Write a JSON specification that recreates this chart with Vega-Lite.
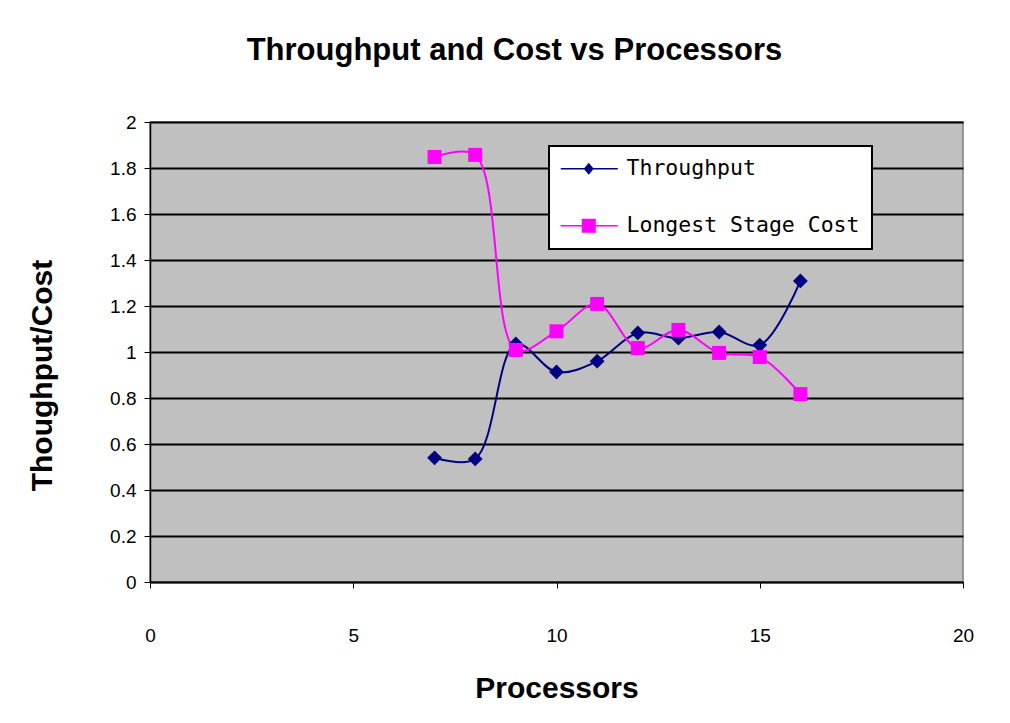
{
  "$schema": "https://vega.github.io/schema/vega-lite/v6.json",
  "autosize": {"type": "none"},
  "width": 813,
  "height": 460,
  "padding": {"left": 150, "top": 122, "right": 47, "bottom": 141},
  "background": "white",
  "config": {
    "view": {"fill": "#C0C0C0", "stroke": "#808080", "strokeWidth": 1.5},
    "font": "Liberation Sans"
  },
  "title": {
    "text": "Throughput and Cost vs Processors",
    "font": "Liberation Sans",
    "fontSize": 31,
    "fontWeight": "bold",
    "anchor": "middle",
    "dx": -42,
    "offset": 46,
    "color": "black"
  },
  "data": {
    "values": [
      {"processors": 7, "series": "Throughput", "value": 0.54},
      {"processors": 8, "series": "Throughput", "value": 0.535},
      {"processors": 9, "series": "Throughput", "value": 1.035},
      {"processors": 10, "series": "Throughput", "value": 0.913},
      {"processors": 11, "series": "Throughput", "value": 0.96},
      {"processors": 12, "series": "Throughput", "value": 1.083},
      {"processors": 13, "series": "Throughput", "value": 1.06},
      {"processors": 14, "series": "Throughput", "value": 1.087},
      {"processors": 15, "series": "Throughput", "value": 1.03},
      {"processors": 16, "series": "Throughput", "value": 1.309},
      {"processors": 7, "series": "Longest Stage Cost", "value": 1.848},
      {"processors": 8, "series": "Longest Stage Cost", "value": 1.857},
      {"processors": 9, "series": "Longest Stage Cost", "value": 1.009},
      {"processors": 10, "series": "Longest Stage Cost", "value": 1.09},
      {"processors": 11, "series": "Longest Stage Cost", "value": 1.209},
      {"processors": 12, "series": "Longest Stage Cost", "value": 1.017},
      {"processors": 13, "series": "Longest Stage Cost", "value": 1.096},
      {"processors": 14, "series": "Longest Stage Cost", "value": 0.996},
      {"processors": 15, "series": "Longest Stage Cost", "value": 0.978},
      {"processors": 16, "series": "Longest Stage Cost", "value": 0.817}
    ]
  },
  "encoding": {
    "x": {
      "field": "processors",
      "type": "quantitative",
      "scale": {"domain": [0, 20], "nice": false},
      "axis": {
        "values": [0, 5, 10, 15, 20],
        "grid": false,
        "title": "Processors",
        "titleFont": "Liberation Sans",
        "titleFontSize": 30,
        "titleFontWeight": "bold",
        "titleColor": "black",
        "titleY": 106,
        "titleBaseline": "middle",
        "labelFontSize": 19,
        "labelColor": "black",
        "labelPadding": 38,
        "tickSize": 6,
        "tickColor": "black",
        "domainColor": "black",
        "domainWidth": 1.5,
        "labelFlush": false
      }
    },
    "y": {
      "field": "value",
      "type": "quantitative",
      "scale": {"domain": [0, 2], "nice": false},
      "axis": {
        "values": [0, 0.2, 0.4, 0.6, 0.8, 1, 1.2, 1.4, 1.6, 1.8, 2],
        "format": "~g",
        "grid": true,
        "gridColor": "black",
        "gridWidth": 2,
        "gridOpacity": 1,
        "title": "Thoughput/Cost",
        "titleFont": "Liberation Sans",
        "titleFontSize": 30,
        "titleFontWeight": "bold",
        "titleColor": "black",
        "titleX": -108,
        "titleY": 253,
        "titleAngle": -90,
        "titleBaseline": "middle",
        "titleAlign": "center",
        "labelFontSize": 19,
        "labelColor": "black",
        "labelPadding": 8,
        "tickSize": 6,
        "tickColor": "black",
        "domainColor": "black",
        "domainWidth": 1.5,
        "labelFlush": false
      }
    },
    "color": {
      "field": "series",
      "type": "nominal",
      "scale": {"domain": ["Throughput", "Longest Stage Cost"], "range": ["#000080", "#FF00FF"]}
    }
  },
  "layer": [
    {
      "mark": {"type": "line", "interpolate": "catmull-rom", "strokeWidth": 2},
      "encoding": {
        "color": {
          "field": "series",
          "type": "nominal",
          "scale": {"domain": ["Throughput", "Longest Stage Cost"], "range": ["#000080", "#FF00FF"]},
          "legend": {
            "title": null,
            "orient": "none",
            "legendX": 399,
            "legendY": 24,
            "fillColor": "white",
            "strokeColor": "black",
            "padding": 12,
            "rowPadding": 34,
            "labelFontSize": 21.5,
            "labelColor": "black",
            "labelFont": "DejaVu Sans Mono",
            "labelLimit": 400,
            "symbolSize": 400,
            "symbolStrokeWidth": 0,
            "symbolOpacity": 1,
            "labelOffset": 44,
            "encode": {
              "legend": {"update": {"strokeWidth": {"value": 2}}},
              "symbols": {
                "update": {
                  "shape": {"signal": "datum.value == 'Throughput' ? 'M-1.1,-0.08H4.6V0.08H-1.1Z M1.7,-0.6L2.2,0L1.7,0.6L1.2,0Z' : 'M-1.1,-0.08H4.6V0.08H-1.1Z M1.0,-0.7H2.4V0.7H1.0Z'"},
                  "fill": {"signal": "datum.value == 'Throughput' ? '#000080' : '#FF00FF'"},
                  "strokeWidth": {"value": 0}
                }
              }
            }
          }
        }
      }
    },
    {
      "transform": [{"filter": "datum.series == 'Throughput'"}],
      "mark": {"type": "point", "filled": true, "opacity": 1, "shape": "diamond", "size": 220}
    },
    {
      "transform": [{"filter": "datum.series == 'Longest Stage Cost'"}],
      "mark": {"type": "point", "filled": true, "opacity": 1, "shape": "square", "size": 196}
    }
  ]
}
